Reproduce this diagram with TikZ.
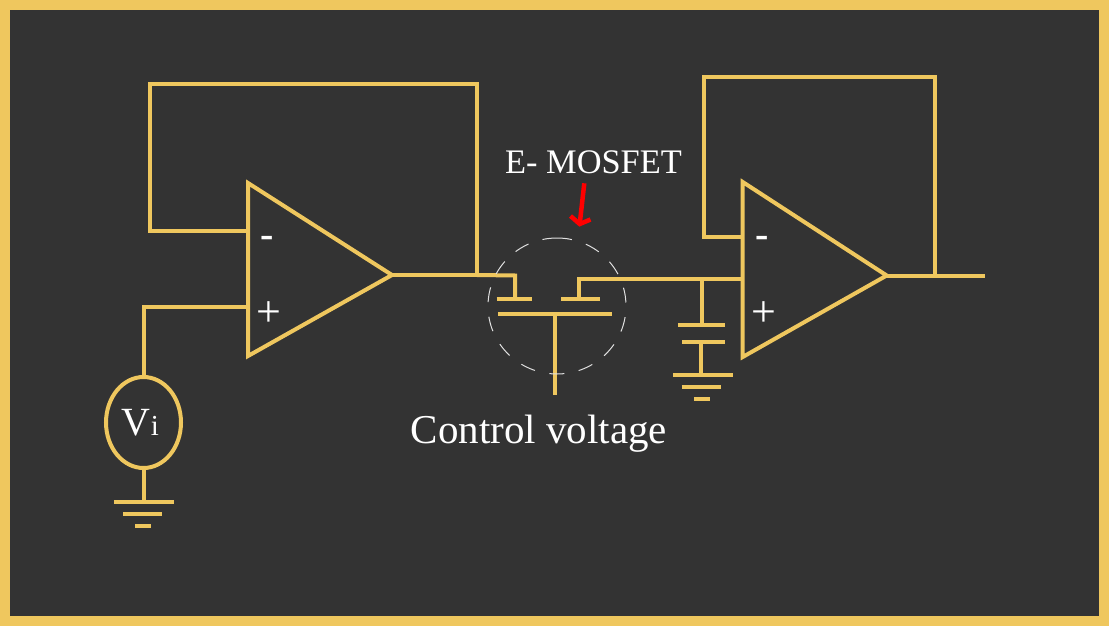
\documentclass[tikz,border=0pt]{standalone}
\usepackage{fontspec}
\setmainfont{Liberation Serif}
\usetikzlibrary{shapes.geometric}
\definecolor{wirecol}{HTML}{EFC75E}
\definecolor{panelcol}{HTML}{333333}
\tikzset{
  wire/.style={draw=wirecol,line width=4pt,line join=miter,miter limit=10},
  finewire/.style={draw=wirecol,line width=4pt},
  redarrow/.style={draw=red,line width=4.5pt,line join=miter},
  guide/.style={draw=white!85!panelcol,line width=1pt,dash pattern=on 15pt off 14.7pt},
  label/.style={text=white,inner sep=0pt,outer sep=0pt,anchor=base},
  source/.style={ellipse,draw=wirecol,line width=4pt,minimum width=75pt,minimum height=91pt,inner sep=0pt,outer sep=0pt}
}
\begin{document}
\begin{tikzpicture}[x=1pt,y=-1pt]
\fill[wirecol] (0,0) rectangle (1109,626);
\fill[panelcol] (10,10) rectangle (1099,616);
% first amplifier
\coordinate (aT) at (248,183);
\coordinate (aB) at (248,356);
\coordinate (aO) at (392,275);
\coordinate (aM) at (248,231);
\coordinate (aP) at (248,307);
\coordinate (fA) at (477,275);
\coordinate (fB) at (477,84);
\coordinate (fC) at (150,84);
\coordinate (fD) at (150,231);
\coordinate (pA) at (143.5,307);
\draw[wire] (aT) -- (aO) -- (aB) -- cycle;
\draw[wire] (aO) -- (fA) -- (fB) -- (fC) -- (fD) -- (aM);
% source
\node[source] (vi) at (143.5,422.5) {};
\node[label] (vilabelV) at (136,435) {\fontsize{40}{44}\selectfont V};
\node[label] (vilabeli) at (155,435) {\fontsize{29}{34}\selectfont i};
\draw[wire] (aP) -- (pA) -- (vi.north);
\coordinate (gA) at (143.5,502);
\draw[wire] (vi.south) -- (gA);
\draw[finewire] (114,502) -- (174,502);
\draw[finewire] (123,514) -- (162,514);
\draw[finewire] (135,526) -- (151,526);
% MOSFET
\coordinate (dA) at (515,275.5);
\coordinate (dB) at (515,298.7);
\coordinate (sA) at (579,298.7);
\coordinate (sB) at (579,279);
\coordinate (bM) at (743,279);
\coordinate (gT) at (555,313.7);
\coordinate (gE) at (555,394.7);
\coordinate (cT) at (702.3,279);
\coordinate (cB) at (702.3,325);
\draw[wire] (fA) -- (dA) -- (dB);
\draw[finewire] (496.7,298.7) -- (532,298.7);
\draw[finewire] (561,298.7) -- (599.5,298.7);
\draw[wire] (sA) -- (sB) -- (bM);
\draw[finewire] (498,313.7) -- (612,313.7);
\draw[wire] (gT) -- (gE);
\draw[guide] (557,238) arc[start angle=-90,end angle=270,x radius=69,y radius=68];
% capacitor and second ground
\coordinate (kT) at (701.3,342.3);
\coordinate (kB) at (701.3,375);
\draw[wire] (cT) -- (cB);
\draw[finewire] (678,325) -- (725,325);
\draw[finewire] (682,342.3) -- (725,342.3);
\draw[wire] (kT) -- (kB);
\draw[finewire] (673,375) -- (732.7,375);
\draw[finewire] (681.7,387) -- (721,387);
\draw[finewire] (694,399) -- (710,399);
% second amplifier
\coordinate (bT) at (742.7,182);
\coordinate (bB) at (742.7,357);
\coordinate (bO) at (886.7,275.5);
\coordinate (bN) at (742.7,237);
\coordinate (hA) at (935,275.5);
\coordinate (hB) at (935,77);
\coordinate (hC) at (703.5,77);
\coordinate (hD) at (703.5,237);
\coordinate (out) at (985,275.5);
\draw[wire] (bT) -- (bO) -- (bB) -- cycle;
\draw[wire] (bO) -- (out);
\draw[wire] (hA) -- (hB) -- (hC) -- (hD) -- (bN);
% signs
\node[label] (minusA) at (267,247) {\bfseries\fontsize{40}{50}\selectfont -};
\node[label] (plusA) at (269,326) {\fontsize{44}{50}\selectfont +};
\node[label] (minusB) at (762,247) {\bfseries\fontsize{40}{50}\selectfont -};
\node[label] (plusB) at (764,326) {\fontsize{44}{50}\selectfont +};
% labels
\node[label] (mosfet) at (593.5,173.5) {\fontsize{34.4}{40}\selectfont E- MOSFET};
\node[label] (control) at (539,443) {\fontsize{41}{46}\selectfont Control voltage};
% red arrow
\coordinate (rT) at (584.3,183.3);
\coordinate (rH) at (579.7,224);
\coordinate (rL) at (570.5,216);
\coordinate (rR) at (590.5,219.5);
\draw[redarrow] (rT) -- (rH);
\draw[redarrow] (rL) -- (rH) -- (rR);
\end{tikzpicture}
\end{document}
